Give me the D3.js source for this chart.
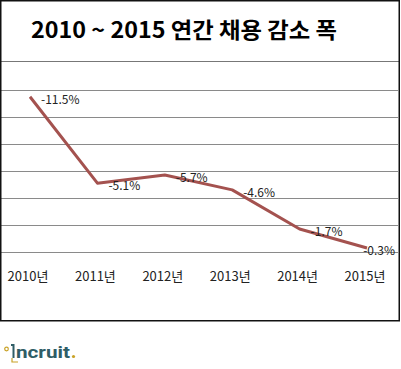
<!DOCTYPE html>
<html>
<head>
<meta charset="utf-8">
<script src="https://cdn.jsdelivr.net/npm/d3@7"></script>
<style>
  body { margin: 0; background: #fff; }
  svg { display: block; }
</style>
</head>
<body>
<script>
var width = 401,
    height = 369;

// data
var years = ["2010년", "2011년", "2012년", "2013년", "2014년", "2015년"];
var values = [-11.5, -5.1, -5.7, -4.6, -1.7, -0.3];
var labels = ["-11.5%", "-5.1%", "-5.7%", "-4.6%", "-1.7%", "-0.3%"];
var gridTicks = [0, -2, -4, -6, -8, -10, -12];
var title = "2010 ~ 2015 연간 채용 감소 폭";

var font = '"Noto Sans CJK KR", "Noto Sans", sans-serif';

var svg = d3.select("body").append("svg")
    .attr("width", width)
    .attr("height", height);

svg.append("rect")
    .attr("width", width)
    .attr("height", height)
    .attr("fill", "#fff");

// x: band centres, y: 0 at the bottom, more negative goes up
var x = d3.scalePoint()
    .domain(years)
    .range([30, 367]);
var y = d3.scaleLinear()
    .domain([0, -12])
    .range([252, 90]);

// gridlines
svg.append("g")
    .selectAll("line")
    .data(gridTicks)
    .join("line")
    .attr("x1", 1)
    .attr("x2", 398)
    .attr("y1", function (d) { return Math.round(y(d)) + 0.5; })
    .attr("y2", function (d) { return Math.round(y(d)) + 0.5; })
    .attr("stroke", "#8a8a8a")
    .attr("stroke-width", 1);

// title area separator
svg.append("line")
    .attr("x1", 1).attr("x2", 399)
    .attr("y1", 61.5).attr("y2", 61.5)
    .attr("stroke", "#777")
    .attr("stroke-width", 1);

// title
var t = svg.append("text")
    .attr("x", 31)
    .attr("y", 38)
    .attr("fill", "#000")
    .style("font-family", font)
    .style("font-weight", "700")
    .style("font-size", "22px")
    .text(title);
// squeeze to the reference width
if (t.node().getComputedTextLength() > 0) {
    t.attr("textLength", 306).attr("lengthAdjust", "spacingAndGlyphs");
}

// line
var line = d3.line()
    .x(function (d, i) { return x(years[i]); })
    .y(function (d) { return y(d); });

svg.append("path")
    .datum(values)
    .attr("fill", "none")
    .attr("stroke", "#a4524f")
    .attr("stroke-width", 3)
    .attr("stroke-linejoin", "round")
    .attr("d", line);

// data labels, kept inside the frame like the original
svg.append("g")
    .selectAll("text")
    .data(values)
    .join("text")
    .attr("y", function (d) { return y(d) + 7; })
    .attr("fill", "#222")
    .style("font-family", font)
    .style("font-size", "12px")
    .text(function (d, i) { return labels[i]; })
    .attr("x", function (d, i) {
        var w = this.getComputedTextLength();
        return Math.min(x(years[i]) + 11, 395 - w);
    });

// x axis labels
svg.append("g")
    .selectAll("text")
    .data(years)
    .join("text")
    .attr("x", function (d) { return x(d) - 2; })
    .attr("y", 281)
    .attr("text-anchor", "middle")
    .attr("fill", "#222")
    .style("font-family", font)
    .style("font-size", "13px")
    .text(function (d) { return d; });

// outer frame
svg.append("rect")
    .attr("x", 0.75)
    .attr("y", 0.75)
    .attr("width", 398.5)
    .attr("height", 320)
    .attr("fill", "none")
    .attr("stroke", "#111")
    .attr("stroke-width", 1.5);

// logo
var logo = svg.append("g").attr("transform", "translate(4,345)");
logo.append("circle")
    .attr("cx", 2.5).attr("cy", 4)
    .attr("r", 1.8)
    .attr("fill", "none")
    .attr("stroke", "#c9a227")
    .attr("stroke-width", 1.2);
logo.append("path")
    .attr("d", "M7,0 L9.5,0 L9.5,13")
    .attr("fill", "none")
    .attr("stroke", "#2f5d66")
    .attr("stroke-width", 2);
logo.append("path")
    .attr("d", "M8,13 L8,17 L14,17")
    .attr("fill", "none")
    .attr("stroke", "#c9a227")
    .attr("stroke-width", 1.2);
logo.append("text")
    .attr("x", 12)
    .attr("y", 13)
    .attr("fill", "#2f5d66")
    .style("font-family", "Roboto, sans-serif")
    .style("font-weight", "700")
    .style("font-size", "17px")
    .attr("textLength", 54)
    .attr("lengthAdjust", "spacingAndGlyphs")
    .text("ncruit");
logo.append("circle")
    .attr("cx", 69.5).attr("cy", 11.5)
    .attr("r", 1.6)
    .attr("fill", "#c9a227");
</script>
</body>
</html>
